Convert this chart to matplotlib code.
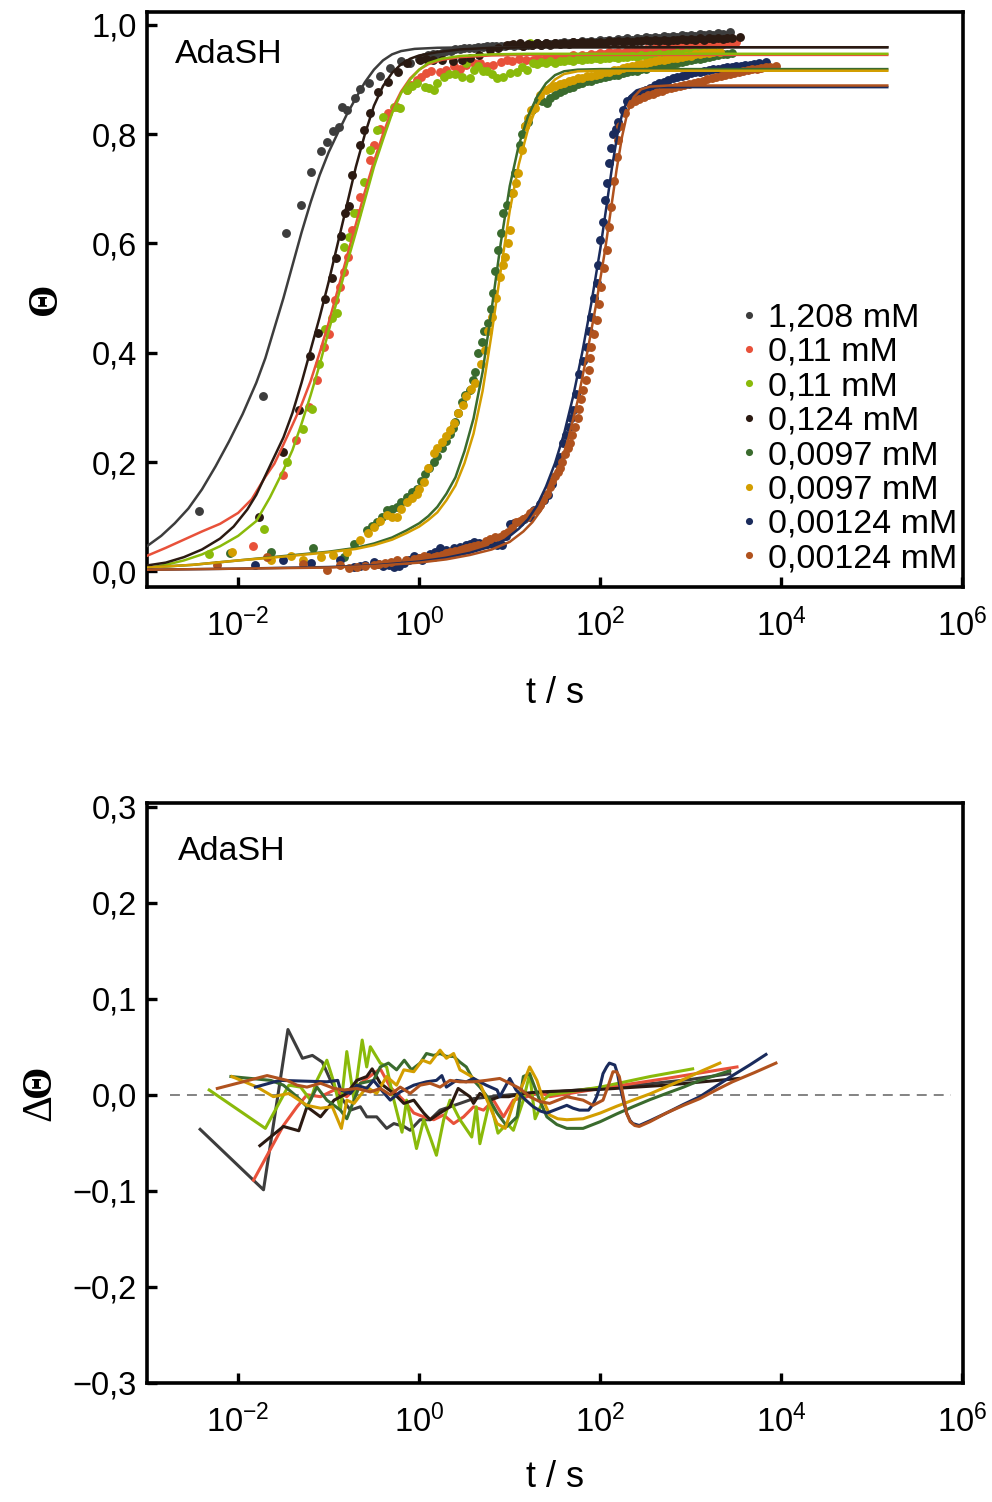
import numpy as np
import matplotlib
matplotlib.use("Agg")
import matplotlib.pyplot as plt
from matplotlib.ticker import FuncFormatter, NullLocator

plt.rcParams['font.family'] = ['Liberation Sans', 'DejaVu Sans']
plt.rcParams['mathtext.fontset'] = 'custom'
plt.rcParams['mathtext.rm'] = 'Liberation Sans'
plt.rcParams['mathtext.it'] = 'Liberation Sans:italic'
plt.rcParams['mathtext.bf'] = 'Liberation Sans:bold'

# series labels / colours (legend order)
labels = ['1,208 mM', '0,11 mM', '0,11 mM', '0,124 mM',
          '0,0097 mM', '0,0097 mM', '0,00124 mM', '0,00124 mM']
colors = ['#3d3d3d', '#e8513a', '#8aba0a', '#2b1a12',
          '#3a6b2e', '#d39e00', '#1a2b5c', '#b0521e']

# ---- measured coverage, (log10 t/s, theta) ----
pts_1208 = [(-2.43, 0.110), (-1.73, 0.320), (-1.47, 0.620), (-1.31, 0.670), (-1.20, 0.730),
            (-1.09, 0.770), (-1.02, 0.786), (-0.95, 0.806), (-0.89, 0.813), (-0.85, 0.850),
            (-0.80, 0.845), (-0.71, 0.866), (-0.65, 0.883), (-0.55, 0.893), (-0.43, 0.907),
            (-0.32, 0.921), (-0.20, 0.933), (-0.10, 0.930), (0.00, 0.938), (0.05, 0.941),
            (0.10, 0.944), (0.15, 0.946), (0.20, 0.947), (0.25, 0.949), (0.30, 0.952),
            (0.35, 0.953), (0.40, 0.955), (0.45, 0.956), (0.50, 0.957), (0.55, 0.957),
            (0.60, 0.958), (0.65, 0.959), (0.70, 0.960), (0.75, 0.961), (0.80, 0.961),
            (0.85, 0.962), (0.90, 0.962), (0.95, 0.962),
            (1.00, 0.963), (1.05, 0.961), (1.10, 0.964), (1.15, 0.962), (1.20, 0.964),
            (1.25, 0.963), (1.30, 0.966), (1.35, 0.964), (1.40, 0.966), (1.45, 0.965),
            (1.50, 0.967), (1.55, 0.966), (1.60, 0.968), (1.65, 0.967), (1.70, 0.969),
            (1.75, 0.967), (1.80, 0.970), (1.85, 0.968), (1.90, 0.971), (1.95, 0.969),
            (2.00, 0.972), (2.05, 0.970), (2.10, 0.973), (2.15, 0.971), (2.20, 0.974),
            (2.25, 0.972), (2.30, 0.975), (2.35, 0.973), (2.40, 0.976), (2.45, 0.974),
            (2.50, 0.977), (2.55, 0.975), (2.60, 0.978), (2.65, 0.976), (2.70, 0.979),
            (2.75, 0.977), (2.80, 0.980), (2.85, 0.978), (2.90, 0.981), (2.95, 0.979),
            (3.00, 0.982), (3.05, 0.980), (3.10, 0.983), (3.15, 0.981), (3.20, 0.984),
            (3.25, 0.982), (3.30, 0.985), (3.35, 0.983), (3.43, 0.986)]
pts_011a = [(-1.84, 0.046), (-1.50, 0.176), (-1.36, 0.240), (-1.22, 0.300), (-1.13, 0.350),
            (-1.055, 0.410), (-1.00, 0.435), (-0.93, 0.496), (-0.88, 0.521), (-0.83, 0.548),
            (-0.79, 0.575), (-0.74, 0.625), (-0.69, 0.655), (-0.65, 0.685), (-0.54, 0.753),
            (-0.505, 0.780), (-0.43, 0.810), (-0.34, 0.838), (-0.25, 0.850), (-0.14, 0.880),
            (-0.09, 0.890), (-0.03, 0.899), (0.02, 0.905), (0.08, 0.911), (0.13, 0.915),
            (0.23, 0.914), (0.30, 0.918), (0.38, 0.924), (0.45, 0.920), (0.52, 0.927),
            (0.60, 0.930), (0.67, 0.930), (0.75, 0.925), (0.82, 0.927), (0.90, 0.932),
            (0.97, 0.936), (1.03, 0.934), (1.10, 0.937), (1.18, 0.935), (1.26, 0.936),
            (1.30, 0.938), (1.35, 0.936), (1.40, 0.939), (1.45, 0.937), (1.50, 0.941),
            (1.55, 0.939), (1.60, 0.942), (1.65, 0.940), (1.70, 0.944), (1.75, 0.942),
            (1.80, 0.945), (1.85, 0.943), (1.90, 0.947), (1.95, 0.945), (2.00, 0.948),
            (2.05, 0.946), (2.10, 0.950), (2.15, 0.948), (2.20, 0.951), (2.25, 0.949),
            (2.30, 0.953), (2.35, 0.951), (2.40, 0.954), (2.45, 0.952), (2.50, 0.956),
            (2.55, 0.954), (2.60, 0.957), (2.65, 0.955), (2.70, 0.958), (2.75, 0.957),
            (2.80, 0.960), (2.85, 0.958), (2.90, 0.961), (2.95, 0.960), (3.00, 0.962),
            (3.05, 0.961), (3.10, 0.964), (3.15, 0.962), (3.20, 0.965), (3.25, 0.964),
            (3.30, 0.966), (3.35, 0.965), (3.40, 0.968), (3.45, 0.967), (3.50, 0.969)]
pts_011b = [(-2.32, 0.032), (-1.71, 0.078), (-1.46, 0.200), (-1.28, 0.261), (-1.18, 0.298),
            (-1.11, 0.380), (-1.04, 0.444), (-0.96, 0.463), (-0.91, 0.472), (-0.835, 0.594),
            (-0.78, 0.612), (-0.725, 0.655), (-0.615, 0.713), (-0.54, 0.771), (-0.47, 0.808),
            (-0.395, 0.832), (-0.28, 0.850), (-0.21, 0.847), (-0.14, 0.880), (-0.08, 0.888),
            (-0.03, 0.893), (0.065, 0.887), (0.11, 0.885), (0.16, 0.880), (0.20, 0.894),
            (0.27, 0.905), (0.33, 0.910), (0.40, 0.910), (0.47, 0.905), (0.52, 0.930),
            (0.56, 0.902), (0.60, 0.918), (0.65, 0.924), (0.70, 0.915), (0.75, 0.915),
            (0.80, 0.910), (0.86, 0.902), (0.93, 0.905), (1.00, 0.911), (1.08, 0.914),
            (1.13, 0.922), (1.19, 0.918), (1.22, 0.966), (1.26, 0.930),
            (1.30, 0.929), (1.35, 0.932), (1.40, 0.930), (1.45, 0.933), (1.50, 0.931),
            (1.55, 0.934), (1.60, 0.933), (1.65, 0.936), (1.70, 0.934), (1.75, 0.937),
            (1.80, 0.935), (1.85, 0.938), (1.90, 0.937), (1.95, 0.939), (2.00, 0.938),
            (2.05, 0.940), (2.10, 0.939), (2.15, 0.941), (2.20, 0.940), (2.25, 0.942),
            (2.30, 0.941), (2.35, 0.943), (2.40, 0.942), (2.45, 0.944), (2.50, 0.943),
            (2.55, 0.945), (2.60, 0.944), (2.65, 0.946), (2.70, 0.945), (2.75, 0.947),
            (2.80, 0.946), (2.85, 0.948), (2.90, 0.947), (2.95, 0.949), (3.00, 0.948),
            (3.05, 0.950), (3.10, 0.949), (3.15, 0.951), (3.20, 0.950), (3.25, 0.952),
            (3.30, 0.951)]
pts_0124 = [(-1.77, 0.100), (-1.50, 0.218), (-1.33, 0.296), (-1.21, 0.394), (-1.12, 0.436),
            (-1.04, 0.498), (-0.96, 0.536), (-0.92, 0.573), (-0.86, 0.614), (-0.82, 0.656),
            (-0.78, 0.668), (-0.74, 0.725), (-0.65, 0.780), (-0.615, 0.808), (-0.54, 0.838),
            (-0.45, 0.878), (-0.34, 0.896), (-0.23, 0.914), (-0.14, 0.930), (0.01, 0.936),
            (0.08, 0.937), (0.15, 0.936), (0.25, 0.936), (0.37, 0.933), (0.47, 0.936),
            (0.56, 0.939), (0.66, 0.945), (0.78, 0.954), (0.87, 0.958), (0.966, 0.963),
            (1.04, 0.965), (1.11, 0.967),
            (1.15, 0.962), (1.20, 0.965), (1.25, 0.963), (1.30, 0.966), (1.35, 0.964),
            (1.40, 0.966), (1.45, 0.964), (1.50, 0.967), (1.55, 0.965), (1.60, 0.967),
            (1.65, 0.965), (1.70, 0.968), (1.75, 0.966), (1.80, 0.968), (1.85, 0.966),
            (1.90, 0.969), (1.95, 0.967), (2.00, 0.969), (2.05, 0.967), (2.10, 0.970),
            (2.15, 0.968), (2.20, 0.970), (2.25, 0.968), (2.30, 0.971), (2.35, 0.969),
            (2.40, 0.971), (2.45, 0.970), (2.50, 0.972), (2.55, 0.970), (2.60, 0.972),
            (2.65, 0.971), (2.70, 0.973), (2.75, 0.971), (2.80, 0.973), (2.85, 0.972),
            (2.90, 0.974), (2.95, 0.972), (3.00, 0.974), (3.05, 0.973), (3.10, 0.975),
            (3.15, 0.973), (3.20, 0.975), (3.25, 0.974), (3.30, 0.976), (3.35, 0.974),
            (3.40, 0.976), (3.45, 0.975), (3.54, 0.977)]
pts_0097a = [(-2.09, 0.034), (-1.64, 0.035), (-1.17, 0.043), (-0.835, 0.026), (-0.72, 0.051),
             (-0.58, 0.075), (-0.52, 0.083), (-0.47, 0.090), (-0.41, 0.100), (-0.36, 0.112),
             (-0.30, 0.114), (-0.25, 0.118), (-0.20, 0.127), (-0.14, 0.136), (-0.08, 0.145),
             (-0.03, 0.151), (0.02, 0.165), (0.065, 0.179), (0.11, 0.190), (0.16, 0.200),
             (0.20, 0.212), (0.25, 0.225), (0.30, 0.238), (0.34, 0.252), (0.37, 0.262),
             (0.40, 0.273), (0.43, 0.290), (0.47, 0.310), (0.51, 0.322), (0.56, 0.332),
             (0.59, 0.350), (0.62, 0.365), (0.65, 0.400), (0.69, 0.420), (0.72, 0.440),
             (0.765, 0.454), (0.79, 0.480), (0.82, 0.509), (0.84, 0.550), (0.87, 0.588),
             (0.90, 0.620), (0.93, 0.655), (0.97, 0.670), (1.02, 0.692), (1.06, 0.728),
             (1.11, 0.780), (1.14, 0.800), (1.17, 0.814), (1.20, 0.823), (1.25, 0.845),
             (1.31, 0.863), (1.36, 0.860), (1.41, 0.857),
             (1.45, 0.866), (1.50, 0.871), (1.55, 0.877), (1.60, 0.880), (1.65, 0.885),
             (1.70, 0.887), (1.75, 0.891), (1.80, 0.893), (1.85, 0.897), (1.90, 0.898),
             (1.95, 0.901), (2.00, 0.902), (2.05, 0.905), (2.10, 0.906), (2.15, 0.909),
             (2.20, 0.909), (2.25, 0.912), (2.30, 0.913), (2.35, 0.915), (2.40, 0.916),
             (2.45, 0.919), (2.50, 0.920), (2.55, 0.922), (2.60, 0.923), (2.65, 0.925),
             (2.70, 0.926), (2.75, 0.928), (2.80, 0.929), (2.85, 0.931), (2.90, 0.932),
             (2.95, 0.934), (3.00, 0.935), (3.05, 0.937), (3.10, 0.938), (3.15, 0.940),
             (3.20, 0.941), (3.25, 0.943), (3.30, 0.944), (3.35, 0.946), (3.40, 0.946),
             (3.46, 0.948)]
pts_0097b = [(-2.07, 0.035), (-1.64, 0.020), (-1.42, 0.029), (-1.28, 0.020), (-1.09, 0.026),
             (-0.95, 0.030), (-0.80, 0.035), (-0.65, 0.057), (-0.57, 0.070), (-0.50, 0.081),
             (-0.43, 0.092), (-0.36, 0.103), (-0.30, 0.100), (-0.25, 0.100), (-0.20, 0.115),
             (-0.14, 0.127), (-0.08, 0.135), (-0.03, 0.142), (0.00, 0.150), (0.05, 0.164),
             (0.10, 0.190), (0.16, 0.216), (0.20, 0.225), (0.25, 0.237), (0.30, 0.248),
             (0.34, 0.258), (0.38, 0.272), (0.43, 0.289), (0.48, 0.305), (0.52, 0.320),
             (0.57, 0.333), (0.62, 0.345), (0.68, 0.380), (0.73, 0.405), (0.76, 0.440),
             (0.80, 0.466), (0.85, 0.500), (0.89, 0.539), (0.92, 0.560), (0.95, 0.576),
             (0.98, 0.600), (1.00, 0.625), (1.04, 0.692), (1.07, 0.710), (1.09, 0.728),
             (1.13, 0.771), (1.17, 0.814), (1.20, 0.830), (1.24, 0.844), (1.28, 0.847),
             (1.33, 0.872), (1.40, 0.880), (1.45, 0.885), (1.50, 0.888), (1.55, 0.892),
             (1.60, 0.894), (1.65, 0.897), (1.70, 0.899), (1.75, 0.902), (1.80, 0.903),
             (1.85, 0.906), (1.90, 0.907), (1.95, 0.909), (2.00, 0.910), (2.05, 0.913),
             (2.10, 0.914), (2.15, 0.917), (2.20, 0.918), (2.25, 0.921), (2.30, 0.922),
             (2.35, 0.925), (2.40, 0.926), (2.45, 0.929), (2.50, 0.930), (2.55, 0.932),
             (2.60, 0.933), (2.65, 0.935), (2.70, 0.936), (2.75, 0.938), (2.80, 0.939),
             (2.85, 0.940), (2.90, 0.941), (2.95, 0.943), (3.00, 0.943), (3.05, 0.946),
             (3.10, 0.946), (3.15, 0.948), (3.20, 0.948), (3.25, 0.950), (3.32, 0.951)]
pts_00124a = [(-1.81, 0.011), (-1.50, 0.020), (-1.20, 0.015), (-0.87, 0.020), (-0.72, 0.008),
              (-0.65, 0.010), (-0.60, 0.012), (-0.50, 0.017), (-0.45, 0.013), (-0.40, 0.010),
              (-0.33, 0.012), (-0.28, 0.008), (-0.22, 0.010), (-0.17, 0.015), (-0.11, 0.020),
              (-0.06, 0.029), (0.00, 0.025), (0.03, 0.020), (0.07, 0.026), (0.12, 0.032),
              (0.17, 0.035), (0.23, 0.042), (0.30, 0.040), (0.38, 0.042), (0.45, 0.045),
              (0.52, 0.048), (0.56, 0.050), (0.60, 0.054), (0.66, 0.052), (0.71, 0.051),
              (0.75, 0.050), (0.80, 0.050), (0.86, 0.049), (0.91, 0.048), (0.96, 0.065),
              (1.00, 0.087), (1.05, 0.088), (1.11, 0.090), (1.16, 0.095), (1.22, 0.100),
              (1.27, 0.112), (1.33, 0.124), (1.38, 0.130), (1.42, 0.139), (1.47, 0.160),
              (1.53, 0.197), (1.56, 0.210), (1.59, 0.234), (1.62, 0.250), (1.65, 0.264),
              (1.68, 0.280), (1.70, 0.295), (1.73, 0.325), (1.77, 0.362), (1.81, 0.385),
              (1.85, 0.410), (1.88, 0.440), (1.90, 0.466), (1.93, 0.500), (1.96, 0.527),
              (1.98, 0.560), (2.00, 0.606), (2.03, 0.640), (2.05, 0.680), (2.07, 0.710),
              (2.10, 0.747), (2.12, 0.775), (2.14, 0.800), (2.17, 0.810),
              (2.20, 0.823), (2.25, 0.845), (2.30, 0.860), (2.35, 0.866), (2.40, 0.872),
              (2.45, 0.876), (2.50, 0.881), (2.55, 0.885), (2.60, 0.889), (2.65, 0.893),
              (2.70, 0.896), (2.75, 0.899), (2.80, 0.902), (2.85, 0.905), (2.90, 0.907),
              (2.95, 0.909), (3.00, 0.911), (3.05, 0.913), (3.10, 0.914), (3.15, 0.916),
              (3.20, 0.917), (3.25, 0.919), (3.30, 0.920), (3.35, 0.921), (3.40, 0.922),
              (3.45, 0.923), (3.50, 0.924), (3.55, 0.925), (3.60, 0.926), (3.65, 0.927),
              (3.70, 0.928), (3.75, 0.930), (3.83, 0.932)]
pts_00124b = [(-2.23, 0.011), (-1.68, 0.026), (-1.28, 0.014), (-1.02, 0.002), (-0.87, 0.011),
              (-0.78, 0.006), (-0.69, 0.008), (-0.60, 0.010), (-0.50, 0.011), (-0.44, 0.013),
              (-0.38, 0.016), (-0.31, 0.018), (-0.25, 0.020), (-0.15, 0.021), (-0.06, 0.023),
              (0.00, 0.025), (0.05, 0.028), (0.10, 0.027), (0.16, 0.026), (0.20, 0.028),
              (0.25, 0.030), (0.30, 0.033), (0.34, 0.035), (0.40, 0.038), (0.45, 0.040),
              (0.48, 0.041), (0.52, 0.042), (0.56, 0.045), (0.60, 0.047), (0.65, 0.049),
              (0.71, 0.051), (0.74, 0.055), (0.78, 0.060), (0.84, 0.062), (0.89, 0.063),
              (0.94, 0.068), (0.98, 0.072), (1.02, 0.080), (1.07, 0.090), (1.11, 0.092),
              (1.15, 0.095), (1.19, 0.100), (1.22, 0.106), (1.26, 0.110), (1.30, 0.115),
              (1.33, 0.122), (1.37, 0.130), (1.41, 0.142), (1.44, 0.155), (1.47, 0.165),
              (1.50, 0.175), (1.53, 0.182), (1.55, 0.190), (1.58, 0.200), (1.61, 0.215),
              (1.64, 0.225), (1.66, 0.234), (1.69, 0.250), (1.72, 0.264), (1.75, 0.280),
              (1.77, 0.298), (1.79, 0.315), (1.81, 0.332), (1.84, 0.350), (1.87, 0.368),
              (1.89, 0.390), (1.90, 0.410), (1.93, 0.435), (1.96, 0.460), (1.99, 0.490),
              (2.01, 0.520), (2.04, 0.555), (2.07, 0.588), (2.10, 0.630), (2.12, 0.667),
              (2.15, 0.715), (2.18, 0.759), (2.20, 0.790), (2.22, 0.814),
              (2.27, 0.838), (2.33, 0.855), (2.38, 0.860), (2.43, 0.864), (2.48, 0.868),
              (2.53, 0.871), (2.58, 0.874), (2.63, 0.877), (2.68, 0.879), (2.73, 0.882),
              (2.78, 0.884), (2.83, 0.886), (2.88, 0.888), (2.93, 0.890), (2.98, 0.892),
              (3.03, 0.894), (3.08, 0.896), (3.13, 0.898), (3.18, 0.900), (3.23, 0.902),
              (3.28, 0.904), (3.33, 0.906), (3.38, 0.908), (3.43, 0.910), (3.48, 0.912),
              (3.53, 0.914), (3.58, 0.916), (3.63, 0.918), (3.68, 0.919), (3.73, 0.920),
              (3.78, 0.921), (3.83, 0.922), (3.88, 0.923), (3.94, 0.924)]

# ---- fitted curves, (log10 t/s, theta) ----
fit_1208 = [(-3.0, 0.047), (-2.85, 0.065), (-2.7, 0.088), (-2.55, 0.115), (-2.4, 0.150),
            (-2.25, 0.192), (-2.1, 0.238), (-1.95, 0.288), (-1.8, 0.345), (-1.7, 0.390),
            (-1.6, 0.445), (-1.5, 0.500), (-1.4, 0.560), (-1.3, 0.620), (-1.2, 0.675),
            (-1.1, 0.725), (-1.0, 0.767), (-0.9, 0.802), (-0.8, 0.836), (-0.7, 0.866),
            (-0.6, 0.895), (-0.5, 0.918), (-0.4, 0.935), (-0.3, 0.946), (-0.2, 0.952),
            (-0.05, 0.956), (0.2, 0.958), (0.6, 0.959), (5.17, 0.959)]
fit_011a = [(-3.0, 0.029), (-2.8, 0.043), (-2.6, 0.058), (-2.4, 0.073), (-2.2, 0.087),
            (-2.0, 0.107), (-1.85, 0.132), (-1.7, 0.173), (-1.6, 0.197), (-1.5, 0.232),
            (-1.4, 0.268), (-1.3, 0.305), (-1.2, 0.348), (-1.1, 0.400), (-1.0, 0.455),
            (-0.9, 0.515), (-0.8, 0.575), (-0.7, 0.635), (-0.6, 0.695), (-0.5, 0.750),
            (-0.4, 0.800), (-0.3, 0.845), (-0.2, 0.878), (-0.1, 0.902), (0.0, 0.918),
            (0.1, 0.928), (0.25, 0.936), (0.45, 0.941), (0.8, 0.944), (1.2, 0.945),
            (5.17, 0.945)]
fit_011b = [(-3.0, 0.006), (-2.8, 0.012), (-2.6, 0.020), (-2.4, 0.031), (-2.2, 0.046),
            (-2.0, 0.065), (-1.8, 0.092), (-1.65, 0.135), (-1.5, 0.185), (-1.4, 0.222),
            (-1.3, 0.270), (-1.2, 0.322), (-1.1, 0.378), (-1.0, 0.440), (-0.9, 0.500),
            (-0.8, 0.562), (-0.7, 0.620), (-0.6, 0.680), (-0.5, 0.740), (-0.4, 0.790),
            (-0.3, 0.838), (-0.2, 0.875), (-0.1, 0.900), (0.0, 0.918), (0.1, 0.930),
            (0.25, 0.938), (0.45, 0.943), (0.8, 0.946), (1.2, 0.947), (5.17, 0.947)]
fit_0124 = [(-3.0, 0.011), (-2.8, 0.016), (-2.6, 0.026), (-2.4, 0.040), (-2.2, 0.060),
            (-2.05, 0.082), (-1.9, 0.113), (-1.8, 0.140), (-1.7, 0.175), (-1.6, 0.210),
            (-1.5, 0.245), (-1.4, 0.290), (-1.3, 0.345), (-1.2, 0.405), (-1.1, 0.465),
            (-1.0, 0.530), (-0.9, 0.600), (-0.8, 0.670), (-0.7, 0.740), (-0.6, 0.800),
            (-0.5, 0.852), (-0.4, 0.888), (-0.3, 0.912), (-0.2, 0.928), (-0.1, 0.938),
            (0.0, 0.944), (0.2, 0.950), (0.45, 0.955), (0.8, 0.958), (1.2, 0.959),
            (5.17, 0.959)]
fit_0097a = [(-3.0, 0.007), (-2.5, 0.012), (-2.0, 0.020), (-1.5, 0.028), (-1.0, 0.036),
             (-0.7, 0.043), (-0.5, 0.051), (-0.3, 0.062), (-0.14, 0.075), (0.0, 0.088),
             (0.1, 0.101), (0.2, 0.118), (0.3, 0.142), (0.4, 0.172), (0.5, 0.220),
             (0.6, 0.280), (0.7, 0.365), (0.8, 0.480), (0.9, 0.600), (1.0, 0.705),
             (1.1, 0.780), (1.2, 0.832), (1.3, 0.868), (1.4, 0.893), (1.5, 0.908),
             (1.6, 0.915), (1.75, 0.918), (2.0, 0.919), (5.17, 0.919)]
fit_0097b = [(-3.0, 0.007), (-2.5, 0.012), (-2.0, 0.020), (-1.5, 0.027), (-1.0, 0.035),
             (-0.7, 0.041), (-0.5, 0.048), (-0.3, 0.058), (-0.14, 0.070), (0.0, 0.082),
             (0.1, 0.094), (0.2, 0.108), (0.3, 0.130), (0.4, 0.157), (0.5, 0.198),
             (0.6, 0.252), (0.7, 0.330), (0.8, 0.435), (0.9, 0.550), (1.0, 0.660),
             (1.1, 0.745), (1.2, 0.808), (1.3, 0.852), (1.4, 0.882), (1.5, 0.900),
             (1.6, 0.910), (1.75, 0.915), (2.0, 0.916), (5.17, 0.916)]
fit_00124a = [(-3.0, 0.003), (-2.0, 0.005), (-1.0, 0.008), (-0.5, 0.011), (0.0, 0.018),
              (0.3, 0.025), (0.56, 0.034), (0.8, 0.046), (0.95, 0.058), (1.1, 0.078),
              (1.2, 0.095), (1.3, 0.120), (1.4, 0.155), (1.5, 0.198), (1.6, 0.252),
              (1.7, 0.320), (1.8, 0.400), (1.9, 0.490), (2.0, 0.590), (2.07, 0.670),
              (2.13, 0.740), (2.19, 0.800), (2.25, 0.843), (2.32, 0.868), (2.4, 0.880),
              (2.5, 0.885), (2.7, 0.886), (5.17, 0.886)]
fit_00124b = [(-3.0, 0.003), (-2.0, 0.005), (-1.0, 0.007), (-0.5, 0.010), (0.0, 0.016),
              (0.3, 0.022), (0.56, 0.030), (0.8, 0.040), (1.0, 0.054), (1.15, 0.073),
              (1.25, 0.090), (1.35, 0.113), (1.45, 0.147), (1.55, 0.190), (1.65, 0.245),
              (1.75, 0.312), (1.85, 0.395), (1.95, 0.485), (2.05, 0.585), (2.12, 0.665),
              (2.18, 0.735), (2.24, 0.795), (2.3, 0.840), (2.37, 0.868), (2.45, 0.882),
              (2.55, 0.887), (2.75, 0.889), (5.17, 0.889)]

# ---- residuals, (log10 t/s, delta theta) ----
res_1208 = [(-2.42, -0.036), (-1.72, -0.099), (-1.45, 0.068), (-1.29, 0.038), (-1.18, 0.041),
            (-1.07, 0.034), (-0.98, 0.015), (-0.87, -0.002), (-0.76, -0.016), (-0.65, -0.0125),
            (-0.58, -0.023), (-0.47, -0.023), (-0.36, -0.035), (-0.28, -0.030), (-0.17, -0.033),
            (-0.10, -0.037), (0.01, -0.026), (0.12, -0.026), (0.23, -0.016), (0.34, -0.0125),
            (0.45, -0.009), (0.6, -0.004), (0.8, -0.002), (1.0, 0.0), (1.5, 0.003),
            (2.0, 0.007), (2.5, 0.011), (3.0, 0.016), (3.43, 0.022)]
res_011a = [(-1.83, -0.089), (-1.50, -0.032), (-1.35, -0.0125), (-1.24, 0.0), (-1.09, -0.002),
            (-0.94, 0.005), (-0.80, -0.002), (-0.65, 0.012), (-0.505, 0.022), (-0.43, 0.027),
            (-0.32, 0.008), (-0.17, -0.006), (-0.06, -0.019), (0.05, -0.023), (0.16, -0.026),
            (0.27, -0.021), (0.38, -0.030), (0.49, -0.023), (0.60, -0.0125), (0.71, -0.016),
            (0.82, -0.0056), (0.93, -0.023), (1.04, -0.0056), (1.19, -0.002), (1.33, 0.003),
            (1.44, -0.002), (2.0, 0.0066), (2.73, 0.017), (3.51, 0.029)]
res_011b = [(-2.32, 0.005), (-1.70, -0.035), (-1.44, 0.010), (-1.31, 0.008), (-1.20, -0.0056),
            (-1.13, 0.015), (-1.02, 0.036), (-0.94, 0.012), (-0.87, -0.016), (-0.80, 0.045),
            (-0.72, -0.0056), (-0.63, 0.057), (-0.58, 0.029), (-0.54, 0.050), (-0.43, 0.033),
            (-0.36, 0.029), (-0.28, -0.0056), (-0.19, -0.039), (-0.14, -0.0056), (-0.03, -0.056),
            (0.05, -0.026), (0.12, -0.044), (0.19, -0.063), (0.27, -0.026), (0.34, -0.0056),
            (0.45, -0.026), (0.58, -0.044), (0.63, -0.0125), (0.67, -0.051), (0.78, -0.0056),
            (0.87, -0.040), (0.97, -0.030), (1.04, -0.037), (1.15, -0.0056), (1.22, 0.022),
            (1.28, -0.025), (1.37, -0.0056), (1.44, 0.0), (2.0, 0.008), (2.55, 0.019),
            (3.02, 0.027)]
res_0124 = [(-1.76, -0.053), (-1.50, -0.033), (-1.33, -0.0375), (-1.24, -0.0125), (-1.09, -0.023),
            (-0.94, -0.0056), (-0.80, 0.0014), (-0.69, 0.015), (-0.58, 0.019), (-0.52, 0.027),
            (-0.43, 0.012), (-0.28, 0.0014), (-0.17, -0.009), (-0.06, -0.0056), (0.05, -0.019),
            (0.12, -0.026), (0.23, -0.019), (0.34, -0.0125), (0.43, 0.0066), (0.56, -0.002),
            (0.60, -0.009), (0.67, 0.0014), (0.78, -0.0056), (0.89, -0.002), (0.99, -0.002),
            (1.15, 0.0014), (1.33, 0.003), (2.0, 0.0056), (2.73, 0.010), (3.53, 0.017)]
res_0097a = [(-2.08, 0.019), (-1.64, 0.015), (-1.50, 0.010), (-1.35, -0.002), (-1.24, -0.0125),
             (-1.13, 0.008), (-1.02, -0.0056), (-0.87, -0.016), (-0.80, -0.025), (-0.72, -0.0056),
             (-0.65, 0.012), (-0.505, 0.015), (-0.43, 0.029), (-0.34, 0.033), (-0.25, 0.026),
             (-0.165, 0.036), (-0.085, 0.026), (0.01, 0.033), (0.08, 0.043), (0.16, 0.041),
             (0.23, 0.043), (0.30, 0.040), (0.38, 0.040), (0.45, 0.034), (0.52, 0.029),
             (0.60, 0.015), (0.67, 0.008), (0.78, -0.0056), (0.86, -0.019), (0.97, -0.033),
             (1.08, -0.023), (1.15, 0.019), (1.22, 0.022), (1.33, -0.0056), (1.41, -0.023),
             (1.52, -0.031), (1.63, -0.035), (1.81, -0.035), (2.0, -0.028), (2.18, -0.020),
             (2.36, -0.0125), (2.55, -0.005), (2.73, 0.0014), (2.92, 0.008), (3.10, 0.015),
             (3.43, 0.025)]
res_0097b = [(-2.07, 0.019), (-1.79, 0.008), (-1.61, -0.002), (-1.44, 0.0014), (-1.24, -0.011),
             (-1.09, -0.014), (-0.96, -0.0125), (-0.86, -0.035), (-0.80, -0.0056), (-0.72, -0.009),
             (-0.58, 0.008), (-0.47, 0.0014), (-0.36, 0.019), (-0.25, 0.010), (-0.17, 0.026),
             (-0.06, 0.024), (0.035, 0.036), (0.12, 0.033), (0.23, 0.0465), (0.30, 0.038),
             (0.38, 0.043), (0.45, 0.026), (0.56, 0.020), (0.67, 0.012), (0.78, -0.0125),
             (0.86, -0.030), (0.95, -0.035), (1.04, -0.009), (1.15, 0.012), (1.22, 0.029),
             (1.30, 0.015), (1.37, -0.0056), (1.44, -0.021), (1.53, -0.025), (1.63, -0.026),
             (1.81, -0.025), (2.0, -0.019), (2.18, -0.012), (2.36, -0.0056), (2.55, 0.001),
             (2.73, 0.0083), (2.92, 0.016), (3.10, 0.024), (3.32, 0.033)]
res_00124a = [(-1.81, 0.008), (-1.54, 0.015), (-1.02, 0.0135), (-0.90, 0.015), (-0.87, 0.005),
              (-0.76, 0.0014), (-0.69, 0.010), (-0.58, 0.0066), (-0.505, 0.015), (-0.40, 0.003),
              (-0.32, -0.0056), (-0.21, 0.003), (-0.06, 0.010), (0.08, 0.0135), (0.19, 0.015),
              (0.25, 0.020), (0.30, 0.008), (0.41, 0.015), (0.52, 0.0135), (0.60, 0.017),
              (0.74, 0.010), (0.86, 0.005), (0.89, -0.002), (1.0, 0.017), (1.07, 0.005),
              (1.17, -0.005), (1.26, -0.0125), (1.34, -0.017), (1.41, -0.019), (1.52, -0.015),
              (1.63, -0.011), (1.70, -0.014), (1.77, -0.016), (1.87, -0.016), (1.92, -0.010),
              (1.96, -0.002), (2.00, 0.010), (2.03, 0.022), (2.07, 0.029), (2.10, 0.033),
              (2.16, 0.031), (2.19, 0.022), (2.21, 0.012), (2.25, -0.004), (2.29, -0.019),
              (2.33, -0.027), (2.36, -0.030), (2.43, -0.032), (2.55, -0.027), (2.73, -0.019),
              (2.92, -0.010), (3.10, -0.002), (3.28, 0.009), (3.46, 0.020), (3.65, 0.031),
              (3.83, 0.042)]
res_00124b = [(-2.23, 0.0066), (-1.68, 0.020), (-1.46, 0.015), (-1.35, 0.010), (-1.24, 0.008),
              (-1.09, 0.012), (-0.94, 0.0066), (-0.83, 0.005), (-0.69, 0.0066), (-0.54, 0.003),
              (-0.43, 0.0066), (-0.32, 0.0), (-0.21, 0.008), (-0.10, 0.0014), (0.01, 0.010),
              (0.12, 0.012), (0.23, 0.008), (0.34, 0.015), (0.45, 0.0135), (0.60, 0.0135),
              (0.74, 0.015), (0.89, 0.017), (1.0, 0.012), (1.11, 0.0066), (1.22, -0.002),
              (1.33, -0.007), (1.44, -0.009), (1.63, -0.002), (1.81, -0.0056), (1.92, -0.011),
              (2.03, -0.0056), (2.09, 0.010), (2.14, 0.024), (2.18, 0.024), (2.21, 0.019),
              (2.25, 0.000), (2.29, -0.019), (2.33, -0.028), (2.38, -0.032), (2.43, -0.033),
              (2.55, -0.028), (2.73, -0.019), (2.92, -0.011), (3.10, -0.004), (3.28, 0.005),
              (3.46, 0.0135), (3.70, 0.023), (3.94, 0.033)]

points = [pts_1208, pts_011a, pts_011b, pts_0124, pts_0097a, pts_0097b, pts_00124a, pts_00124b]
fits = [fit_1208, fit_011a, fit_011b, fit_0124, fit_0097a, fit_0097b, fit_00124a, fit_00124b]
residuals = [res_1208, res_011a, res_011b, res_0124, res_0097a, res_0097b, res_00124a, res_00124b]


def split(pairs):
    arr = np.array(pairs, dtype=float)
    return 10.0 ** arr[:, 0], arr[:, 1]


def comma_fmt(v, pos):
    s = f"{v:.1f}".replace('.', ',')
    if s == '-0,0':
        s = '0,0'
    return s.replace('-', '\u2212')


def style_axes(ax):
    ax.set_xscale('log')
    ax.set_xlim(10 ** -3.01, 10 ** 6.01)
    ax.set_xticks([1e-2, 1e0, 1e2, 1e4, 1e6])
    ax.set_xticklabels([r'$10^{-2}$', r'$10^{0}$', r'$10^{2}$', r'$10^{4}$', r'$10^{6}$'])
    ax.xaxis.set_minor_locator(NullLocator())
    ax.yaxis.set_minor_locator(NullLocator())
    ax.yaxis.set_major_formatter(FuncFormatter(comma_fmt))
    for sp in ax.spines.values():
        sp.set_linewidth(2.6)
    ax.tick_params(axis='both', which='major', direction='in', length=7, width=2.4,
                   labelsize=23.5, top=False, right=False)
    ax.tick_params(axis='x', pad=16)
    ax.tick_params(axis='y', pad=7)


serif = ['Liberation Serif', 'DejaVu Serif']

fig = plt.figure(figsize=(9.92, 15.02), dpi=100)
ax1 = fig.add_axes([0.1479, 0.6094, 0.8232, 0.3828])
ax2 = fig.add_axes([0.1479, 0.0794, 0.8232, 0.3860])

# top: coverage vs time
handles = []
for pts, fit, col, lab in zip(points, fits, colors, labels):
    t, th = split(pts)
    h, = ax1.plot(t, th, 'o', ms=6.4, color=col, mec='none', label=lab, zorder=2)
    handles.append(h)
    tf, thf = split(fit)
    ax1.plot(tf, thf, '-', lw=1.8, color=col, zorder=3)

style_axes(ax1)
ax1.set_ylim(-0.028, 1.024)
ax1.set_yticks([0.0, 0.2, 0.4, 0.6, 0.8, 1.0])
ax1.set_xlabel('t / s', fontsize=26)
ax1.xaxis.set_label_coords(0.5, -0.155)
ax1.set_ylabel('\u0398', fontsize=30, family=serif, fontweight='bold')
ax1.yaxis.set_label_coords(-0.100, 0.5)
ax1.text(0.034, 0.9115, 'AdaSH', transform=ax1.transAxes, fontsize=24.5, va='baseline')
ax1.legend(handles=handles, loc='lower right', bbox_to_anchor=(1.017, -0.014),
           frameon=False, fontsize=24.5, handlelength=0.5, handletextpad=0.3,
           labelspacing=0.1, borderaxespad=0.2, markerscale=0.8)

# bottom: residuals
for res, col in zip(residuals, colors):
    t, d = split(res)
    ax2.plot(t, d, '-', lw=2.2, color=col)
ax2.axhline(0.0, xmin=0.028, xmax=0.985, color='#7a7a7a', lw=1.3, ls=(0, (5.5, 3.9)),
            zorder=0)

style_axes(ax2)
ax2.set_ylim(-0.300, 0.304)
ax2.set_yticks([-0.3, -0.2, -0.1, 0.0, 0.1, 0.2, 0.3])
ax2.set_xlabel('t / s', fontsize=26)
ax2.xaxis.set_label_coords(0.5, -0.133)
ax2.text(-0.131, 0.521, '\u0398', transform=ax2.transAxes, fontsize=30, family=serif,
         fontweight='bold', rotation=90, ha='center', va='center')
ax2.text(-0.131, 0.474, '\u0394', transform=ax2.transAxes, fontsize=30, family=serif,
         rotation=90, ha='center', va='center')
ax2.text(0.038, 0.902, 'AdaSH', transform=ax2.transAxes, fontsize=24.5, va='baseline')

fig.savefig('out.png', dpi=100)
